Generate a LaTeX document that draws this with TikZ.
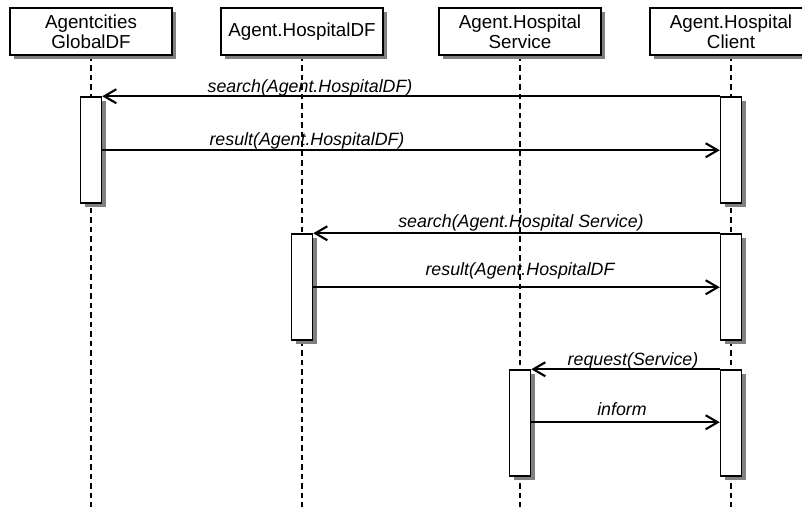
\documentclass[tikz,border=0pt]{standalone}
\usepackage{fontspec}
\setmainfont{Liberation Sans}
\usetikzlibrary{arrows.meta,shadows,backgrounds}

\definecolor{shade}{HTML}{808080}

\tikzset{
  boxshadow/.style={general shadow={fill=shade, shadow xshift=4pt, shadow yshift=-4pt}},
  head/.style={draw=black, line width=1.5pt, fill=white, boxshadow,
    minimum width=162pt, minimum height=47pt, inner sep=0pt, align=center,
    font=\fontsize{18.8}{20}\selectfont},
  act/.style={draw=black, line width=1.5pt, fill=white, boxshadow,
    minimum width=21pt, minimum height=106pt, inner sep=0pt},
  life/.style={draw=black, line width=1.6pt, dash pattern=on 5.5pt off 4pt},
  msg/.style={draw=black, line width=2.1pt,
    -{Straight Barb[length=12pt, width=14pt, line width=2.1pt]}},
  lbl/.style={anchor=base, inner sep=0pt,
    font=\fontsize{17.8}{20}\selectfont\itshape}
}

\begin{document}
\begin{tikzpicture}[x=1pt, y=-1pt]
  \path[use as bounding box, clip] (0,0) rectangle (802,506);

  % participants
  \node[head] (g) at (91,31.5) {Agentcities\\GlobalDF};
  \node[head] (h) at (302,31.5) {Agent.HospitalDF};
  \node[head] (s) at (520,31.5) {Agent.Hospital\\Service};
  \node[head] (c) at (731,31.5) {Agent.Hospital\\Client};

  % lifeline ends below the page edge
  \coordinate (gEnd) at (91,512);
  \coordinate (hEnd) at (302,512);
  \coordinate (sEnd) at (520,512);
  \coordinate (cEnd) at (731,512);

  \begin{scope}[on background layer]
    \fill[white] (0,0) rectangle (802,506);
    \draw[life] (g.south) -- (gEnd);
    \draw[life] (h.south) -- (hEnd);
    \draw[life] (s.south) -- (sEnd);
    \draw[life] (c.south) -- (cEnd);
  \end{scope}

  % activation bars
  \node[act] (g1) at (91,150) {};
  \node[act] (c1) at (731,150) {};
  \node[act] (h2) at (302,287) {};
  \node[act] (c2) at (731,287) {};
  \node[act] (s3) at (520,423) {};
  \node[act] (c3) at (731,423) {};

  % messages
  \draw[msg] (c1.north west) -- (g1.north east);
  \draw[msg] ([yshift=-54pt]g1.north east) -- ([yshift=-54pt]c1.north west);
  \draw[msg] (c2.north west) -- (h2.north east);
  \draw[msg] ([yshift=-54pt]h2.north east) -- ([yshift=-54pt]c2.north west);
  \draw[msg] (c3.north west) -- (s3.north east);
  \draw[msg] ([yshift=-53pt]s3.north east) -- ([yshift=-53pt]c3.north west);

  % message labels
  \node[lbl] (m1) at (310,92) {search(Agent.HospitalDF)};
  \node[lbl] (m2) at (307,145) {result(Agent.HospitalDF)};
  \node[lbl] (m3) at (521,227) {search(Agent.Hospital Service)};
  \node[lbl] (m4) at (520,275) {result(Agent.HospitalDF};
  \node[lbl] (m5) at (633,365) {request(Service)};
  \node[lbl] (m6) at (622,415) {inform};
\end{tikzpicture}
\end{document}
